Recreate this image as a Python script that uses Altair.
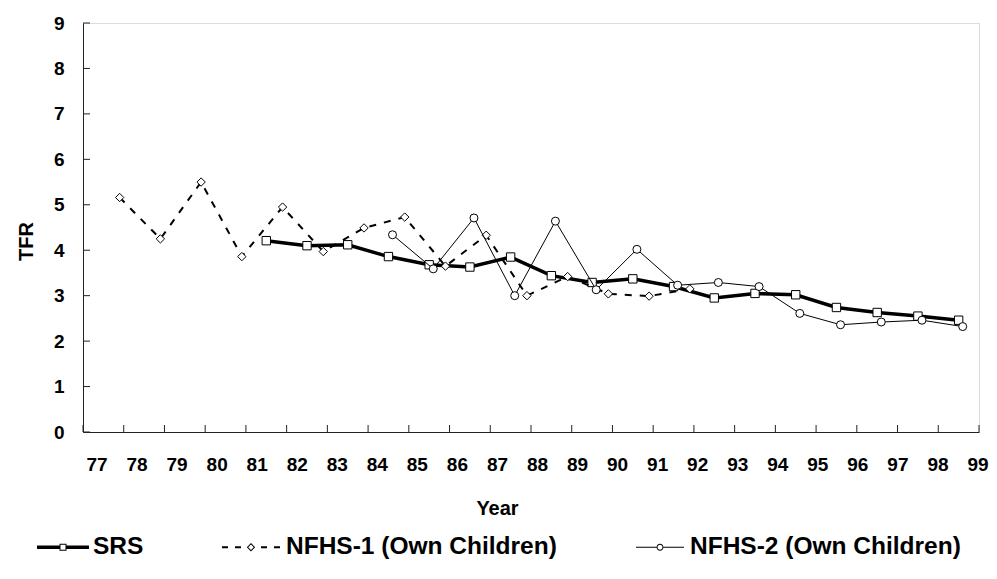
import altair as alt
import pandas as pd

# ---------------- data ----------------
series_names = ["SRS", "NFHS-1 (Own Children)", "NFHS-2 (Own Children)"]

srs_year = [81.5, 82.5, 83.5, 84.5, 85.5, 86.5, 87.5, 88.5, 89.5,
            90.5, 91.5, 92.5, 93.5, 94.5, 95.5, 96.5, 97.5, 98.5]
srs_tfr = [4.21, 4.10, 4.12, 3.86, 3.68, 3.63, 3.85, 3.44, 3.29,
           3.37, 3.20, 2.95, 3.05, 3.02, 2.74, 2.63, 2.55, 2.46]

nfhs1_year = [77.9, 78.9, 79.9, 80.9, 81.9, 82.9, 83.9, 84.9, 85.9,
              86.9, 87.9, 88.9, 89.9, 90.9, 91.9]
nfhs1_tfr = [5.16, 4.25, 5.50, 3.86, 4.95, 3.97, 4.49, 4.73, 3.65,
             4.33, 3.00, 3.42, 3.04, 2.99, 3.15]

nfhs2_year = [84.6, 85.6, 86.6, 87.6, 88.6, 89.6, 90.6, 91.6, 92.6,
              93.6, 94.6, 95.6, 96.6, 97.6, 98.6]
nfhs2_tfr = [4.34, 3.59, 4.71, 3.00, 4.64, 3.13, 4.02, 3.23, 3.29,
             3.20, 2.61, 2.36, 2.42, 2.46, 2.32]

x_tick_labels = list(range(77, 100))
y_tick_labels = list(range(0, 10))

# ---------------- style ----------------
FONT = "Liberation Sans"
W, H = 896, 409
TICK = 7
AXC = "#222222"

x_scale = alt.Scale(domain=[77, 99], nice=False, zero=False)
y_scale = alt.Scale(domain=[0, 9], nice=False, zero=True)

x_axis = alt.Axis(values=x_tick_labels, grid=False, ticks=False, tickSize=0, labels=False,
                  domainColor=AXC, domainWidth=1,
                  title="Year", titleFont=FONT, titleFontSize=20, titleFontWeight="bold",
                  titleColor="black", titlePadding=66, titleX=414)
y_axis = alt.Axis(values=y_tick_labels, format="d", grid=False, ticks=False, tickSize=0,
                  labelPadding=19, labelOverlap=False,
                  domainColor=AXC, domainWidth=1,
                  labelFont=FONT, labelFontSize=19, labelFontWeight="bold", labelColor="black",
                  title="TFR", titleFont=FONT, titleFontSize=20, titleFontWeight="bold",
                  titleColor="black", titleX=-47, titleY=218)

X = alt.X("year:Q", scale=x_scale, axis=x_axis)
Y = alt.Y("tfr:Q", scale=y_scale, axis=y_axis)

srs_df = pd.DataFrame({"year": srs_year, "tfr": srs_tfr})
n1_df = pd.DataFrame({"year": nfhs1_year, "tfr": nfhs1_tfr})
n2_df = pd.DataFrame({"year": nfhs2_year, "tfr": nfhs2_tfr})

# ---------------- legend symbols (line + marker) ----------------
U = 26.0  # px per unit for legend symbol (symbol width 52 px)


def f(v):
    return f"{v / U:.4f}"


def bar(x0, x1, h):
    return f"M{f(x0)},{f(-h)}L{f(x1)},{f(-h)}L{f(x1)},{f(h)}L{f(x0)},{f(h)}Z"


def square_ring(cx, r, ri):
    outer = f"M{f(cx - r)},{f(-r)}L{f(cx + r)},{f(-r)}L{f(cx + r)},{f(r)}L{f(cx - r)},{f(r)}Z"
    inner = f"M{f(cx - ri)},{f(-ri)}L{f(cx - ri)},{f(ri)}L{f(cx + ri)},{f(ri)}L{f(cx + ri)},{f(-ri)}Z"
    return outer + inner


def diamond_ring(cx, r, ri):
    outer = f"M{f(cx)},{f(-r)}L{f(cx + r)},0L{f(cx)},{f(r)}L{f(cx - r)},0Z"
    inner = f"M{f(cx)},{f(-ri)}L{f(cx - ri)},0L{f(cx)},{f(ri)}L{f(cx + ri)},0Z"
    return outer + inner


def circle_ring(cx, r, ri):
    outer = (f"M{f(cx - r)},0A{f(r)},{f(r)} 0 1 1 {f(cx + r)},0"
             f"A{f(r)},{f(r)} 0 1 1 {f(cx - r)},0Z")
    inner = (f"M{f(cx - ri)},0A{f(ri)},{f(ri)} 0 1 0 {f(cx + ri)},0"
             f"A{f(ri)},{f(ri)} 0 1 0 {f(cx - ri)},0Z")
    return outer + inner


p_srs = bar(-26, -3.5, 1.75) + bar(3.5, 26, 1.75) + square_ring(0, 3.5, 2.5)
d = -5
p_n1 = (bar(-34, -28, 1) + bar(-21, -15, 1) + bar(5, 11, 1) + bar(18, 24, 1)
        + diamond_ring(d, 4.2, 2.8))
p_n2 = bar(-24, -3.5, 0.55) + bar(3.5, 24, 0.55) + circle_ring(0, 3.5, 2.5)

# ---------------- layers ----------------
x_ticks = alt.Chart(pd.DataFrame({"year": x_tick_labels})).mark_rule(
    color=AXC, strokeWidth=1).encode(x=X, y=alt.value(H), y2=alt.value(H - TICK))
y_ticks = alt.Chart(pd.DataFrame({"tfr": y_tick_labels})).mark_rule(
    color=AXC, strokeWidth=1).encode(y=Y, x=alt.value(0), x2=alt.value(TICK))

srs_line = alt.Chart(srs_df).mark_line(color="black", strokeWidth=3.5).encode(x=X, y=Y)
srs_pts = alt.Chart(srs_df).mark_point(shape="square", size=70, filled=True, fill="white",
                                       stroke="black", strokeWidth=1, opacity=1).encode(x=X, y=Y)

n1_line = alt.Chart(n1_df).mark_line(color="black", strokeWidth=2,
                                     strokeDash=[7, 8]).encode(x=X, y=Y)
n1_pts = alt.Chart(n1_df).mark_point(shape="diamond", size=70, filled=True, fill="white",
                                     stroke="black", strokeWidth=1, opacity=1).encode(x=X, y=Y)

n2_line = alt.Chart(n2_df).mark_line(color="black", strokeWidth=1).encode(x=X, y=Y)
n2_pts = alt.Chart(n2_df).mark_point(shape="circle", size=64, filled=True, fill="white",
                                     stroke="black", strokeWidth=1, opacity=1).encode(x=X, y=Y)

legend_layer = alt.Chart(pd.DataFrame({"series": series_names})).transform_filter(
    "false").mark_point(filled=True, color="black", strokeWidth=0, opacity=1).encode(
    shape=alt.Shape("series:N",
                    scale=alt.Scale(domain=series_names, range=[p_srs, p_n1, p_n2]),
                    legend=alt.Legend(title=None, orient="none", legendX=-46, legendY=498,
                                      direction="horizontal", columns=3, columnPadding=77,
                                      labelFont=FONT, labelFontSize=24.5, labelFontWeight="bold",
                                      labelColor="black", labelLimit=600, labelOffset=4,
                                      symbolSize=2704, symbolStrokeWidth=0,
                                      symbolFillColor="black")))

main = alt.layer(
    x_ticks, y_ticks,
    srs_line, srs_pts,
    n1_line, n1_pts,
    n2_line, n2_pts,
    legend_layer,
)

# x tick labels (spread slightly narrower than the tick marks, as in the original)
x_labels = alt.Chart(pd.DataFrame({"lab": x_tick_labels})).mark_text(
    font=FONT, fontSize=19, fontWeight="bold", color="black", baseline="top", align="center"
).encode(
    x=alt.X("lab:Q", scale=alt.Scale(domain=[77, 99], range=[14, 895], nice=False, zero=False),
            axis=None),
    y=alt.value(H + 24),
    text=alt.Text("lab:Q", format="d"),
)

chart = alt.layer(main, x_labels).resolve_scale(x="independent").properties(
    width=W, height=H,
    padding={"left": 75, "top": 15, "right": 10, "bottom": 139},
    autosize=alt.AutoSizeParams(type="none"),
).configure_view(stroke=None).configure(background="white")

chart.save("out.html", embed_options={"renderer": "svg", "actions": False})
